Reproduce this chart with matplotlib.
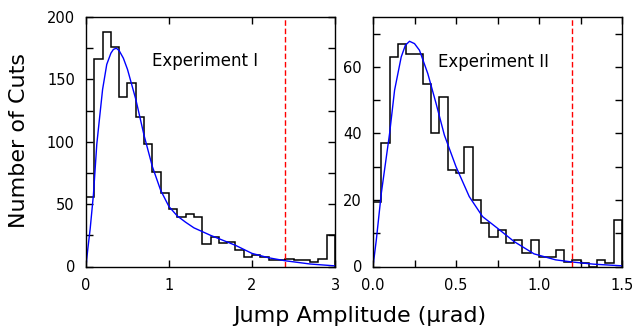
import matplotlib
matplotlib.use("Agg")
import matplotlib.pyplot as plt
from matplotlib.ticker import MultipleLocator
import numpy as np

## data ##

# Experiment I: 30 bins of 0.1 from 0 to 3
edges_1 = np.linspace(0, 3, 31)
counts_1 = [56, 166, 188, 176, 136, 147, 120, 98, 76, 59,
            46, 40, 42, 40, 18, 24, 19, 20, 13, 8,
            9, 8, 5, 5, 6, 5, 5, 4, 6, 25]
fit_1_x = [0, 0.02, 0.05, 0.09, 0.13, 0.16, 0.2, 0.25, 0.3, 0.33, 0.365, 0.4,
           0.45, 0.5, 0.6, 0.7, 0.8, 0.9, 1.0, 1.1, 1.2, 1.3, 1.4, 1.5, 1.65,
           1.8, 2.0, 2.2, 2.4, 2.7, 3.0]
fit_1_y = [0, 13, 30, 58, 98, 117, 142, 162, 171, 174, 175, 173,
           167, 158, 134, 105, 80, 61, 48, 40.5, 35.5, 31, 28, 25, 21,
           17, 10.5, 7, 4.6, 2, 0.5]
cut_1 = 2.4

# Experiment II: 30 bins of 0.05 from 0 to 1.5
edges_2 = np.linspace(0, 1.5, 31)
counts_2 = [19.5, 37, 63, 67, 64, 64, 55, 40, 51, 29,
            28, 36, 20, 13, 9, 11, 7, 8, 4, 8,
            3, 3, 5, 1.3, 2, 1, 0, 2, 1, 14]
fit_2_x = [0, 0.02, 0.05, 0.075, 0.1, 0.13, 0.17, 0.195, 0.22, 0.25, 0.28,
           0.33, 0.38, 0.43, 0.5, 0.58, 0.66, 0.75, 0.85, 0.97, 1.1, 1.2,
           1.33, 1.5]
fit_2_y = [0, 8, 22, 31, 40, 53, 63, 66.5, 67.7, 67, 65,
           58, 49, 39.5, 30, 21, 15, 11.5, 7.5, 3.8, 2, 1.35,
           0.7, 0.2]
cut_2 = 1.2

## plot ##

plt.rcParams['font.family'] = 'DejaVu Sans'
fig = plt.figure(figsize=(6.42, 3.31), dpi=100)
ax1 = fig.add_axes([86/642, 64.5/331, 249/642, 249.5/331])
ax2 = fig.add_axes([373/642, 64.5/331, 249/642, 249.5/331])

panels = [
    (ax1, edges_1, counts_1, fit_1_x, fit_1_y, cut_1, (0, 3), (0, 200),
     1, 1, 50, 25, "Experiment I", (1.43, 164.5)),
    (ax2, edges_2, counts_2, fit_2_x, fit_2_y, cut_2, (0, 1.5), (0, 75),
     0.5, 0.25, 20, 10, "Experiment II", (0.726, 61.6)),
]

for (ax, edges, counts, fx, fy, cut, xlim, ylim,
     xmaj, xmin, ymaj, ymin, label, pos) in panels:
    ax.stairs(counts, edges, baseline=0, color='black', lw=1.1)
    ax.plot(fx, fy, color='blue', lw=1.0)
    ax.axvline(cut, color='red', ls=(0, (4, 2)), lw=1.0)
    ax.text(pos[0], pos[1], label, ha='center', va='center', fontsize=12)

    ax.set_xlim(*xlim)
    ax.set_ylim(*ylim)
    ax.xaxis.set_major_locator(MultipleLocator(xmaj))
    ax.xaxis.set_minor_locator(MultipleLocator(xmin))
    ax.yaxis.set_major_locator(MultipleLocator(ymaj))
    ax.yaxis.set_minor_locator(MultipleLocator(ymin))
    ax.tick_params(which='both', direction='in', top=True, right=True,
                   length=5, width=1.0, labelsize=10.5, pad=8)
    for s in ax.spines.values():
        s.set_linewidth(1.0)

ax2.xaxis.set_major_formatter(matplotlib.ticker.FormatStrFormatter('%.1f'))

fig.text(19.5/642, 1 - 141/331, "Number of Cuts", rotation=90,
         ha='center', va='center', fontsize=16)
fig.text(360/642, 1 - 316/331, "Jump Amplitude (\u03bcrad)",
         ha='center', va='center', fontsize=16)

fig.savefig("out.png", dpi=100)
